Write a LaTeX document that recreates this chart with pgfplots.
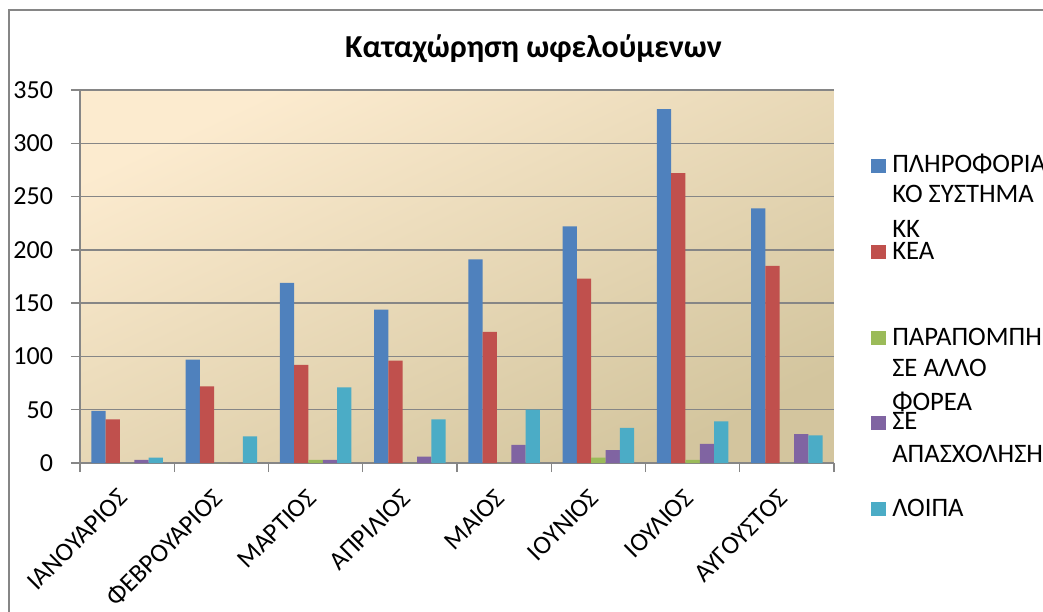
\documentclass[border=0pt]{standalone}
\usepackage{fontspec}
\setmainfont{Carlito}
\usepackage{pgfplots}
\pgfplotsset{compat=1.18}
\definecolor{cBlue}{HTML}{4F81BD}
\definecolor{cRed}{HTML}{C0504D}
\definecolor{cGreen}{HTML}{9BBB59}
\definecolor{cPurple}{HTML}{8064A2}
\definecolor{cCyan}{HTML}{4BACC6}
\definecolor{gridc}{HTML}{868686}
\definecolor{bgA}{HTML}{FCEBCF}
\definecolor{bgB}{HTML}{F1E9D5}
\definecolor{bgC}{HTML}{D3C59E}
\begin{document}
\begin{tikzpicture}[x=0.75pt,y=0.75pt]
\draw[gridc, line width=1.1pt] (9,601) rectangle (1075,-20);
\begin{axis}[
  at={(60pt,111pt)}, anchor=south west,
  scale only axis, width=565.5pt, height=279.75pt,
  ymin=0, ymax=350, ytick={0,50,...,350},
  xmin=-0.5, xmax=7.5,
  ybar=0pt, bar width=0.152,
  axis x line*=bottom, axis y line*=left,
  axis line style={gridc, line width=1.1pt, -},
  ymajorgrids, grid style={gridc, line width=1.1pt},
  tick style={gridc, line width=1.1pt},
  tick align=outside, major tick length=6.75pt,
  xtick={-0.5,0.5,...,7.5}, xticklabels={},
  extra x ticks={0,...,7},
  extra x tick labels={ΙΑΝΟΥΑΡΙΟΣ,ΦΕΒΡΟΥΑΡΙΟΣ,ΜΑΡΤΙΟΣ,ΑΠΡΙΛΙΟΣ,ΜΑΙΟΣ,ΙΟΥΝΙΟΣ,ΙΟΥΛΙΟΣ,ΑΥΓΟΥΣΤΟΣ},
  extra x tick style={major tick length=0pt, grid=none},
  xticklabel style={xshift=-7.5pt, yshift=-13.5pt, rotate=45, anchor=north east, font=\fontsize{19.5}{22}\selectfont},
  yticklabel style={font=\fontsize{19.5}{22}\selectfont, xshift=-10pt},
  /pgf/number format/assume math mode=true,
  axis background/.style={shade, left color=bgA, middle color=bgB, right color=bgC, shading angle=25},
  clip=false,
]
\addplot[fill=cBlue, draw=none] coordinates {(0,49) (1,97) (2,169) (3,144) (4,191) (5,222) (6,332) (7,239)};
\addplot[fill=cRed, draw=none] coordinates {(0,41) (1,72) (2,92) (3,96) (4,123) (5,173) (6,272) (7,185)};
\addplot[fill=cGreen, draw=none] coordinates {(0,0) (1,0) (2,3) (3,0) (4,0) (5,5) (6,3) (7,0)};
\addplot[fill=cPurple, draw=none] coordinates {(0,3) (1,0) (2,3) (3,6) (4,17) (5,12) (6,18) (7,27)};
\addplot[fill=cCyan, draw=none] coordinates {(0,5) (1,25) (2,71) (3,41) (4,50) (5,33) (6,39) (7,26)};
\end{axis}
\node[font=\bfseries\fontsize{24}{28}\selectfont, anchor=base] at (533.5,553) {Καταχώρηση ωφελούμενων};
\begin{scope}[every node/.style={font=\fontsize{20}{22}\selectfont, anchor=base west, inner sep=0pt}]
\fill[cBlue] (871,452) rectangle (886,438);
\node at (892,438) {ΠΛΗΡΟΦΟΡΙΑ};
\node at (892,408) {ΚΟ ΣΥΣΤΗΜΑ};
\node at (892,373) {ΚΚ};
\fill[cRed] (871,366) rectangle (886,352);
\node at (892,351) {ΚΕΑ};
\fill[cGreen] (871,280) rectangle (886,266);
\node at (892,265) {ΠΑΡΑΠΟΜΠΗ};
\node at (892,234) {ΣΕ ΑΛΛΟ};
\node at (892,200) {ΦΟΡΕΑ};
\fill[cPurple] (871,195) rectangle (886,181);
\node at (892,181) {ΣΕ};
\node at (892,148) {ΑΠΑΣΧΟΛΗΣΗ};
\fill[cCyan] (871,109) rectangle (886,95);
\node at (892,94) {ΛΟΙΠΑ};
\end{scope}
\pgfresetboundingbox
\useasboundingbox (0,0) rectangle (1043,611);
\end{tikzpicture}
\end{document}
